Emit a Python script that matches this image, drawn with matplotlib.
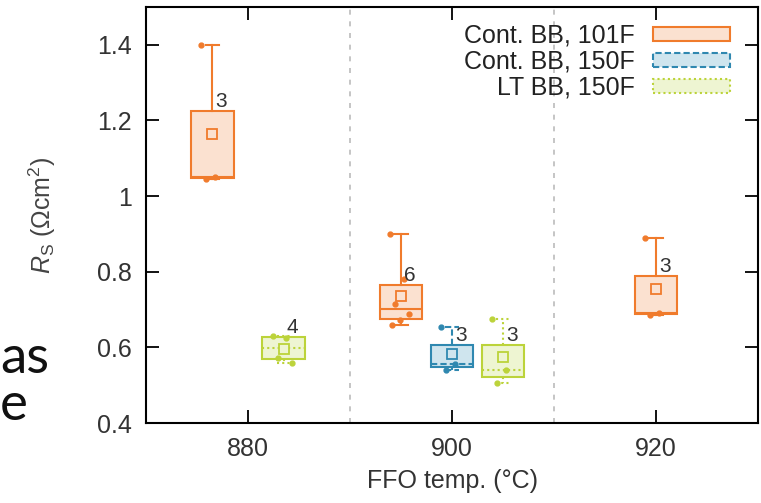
import numpy as np
import matplotlib
matplotlib.use("Agg")
import matplotlib.pyplot as plt
from matplotlib.patches import Patch

plt.rcParams['font.family'] = ['Liberation Sans', 'DejaVu Sans']
plt.rcParams['mathtext.fontset'] = 'custom'
plt.rcParams['mathtext.rm'] = 'Liberation Sans'
plt.rcParams['mathtext.it'] = 'Liberation Sans:italic'

# Rs values per group
labels = ['Cont. BB, 101F', 'Cont. BB, 150F', 'LT BB, 150F']
pos_101 = [876.5, 895, 920]
val_101 = [[1.40, 1.05, 1.045],
           [0.90, 0.78, 0.715, 0.687, 0.672, 0.66],
           [0.89, 0.69, 0.685]]
pos_150 = [900]
val_150 = [[0.655, 0.555, 0.54]]
pos_lt = [883.5, 905]
val_lt = [[0.63, 0.625, 0.572, 0.56],
          [0.675, 0.54, 0.505]]

series = [
    (pos_101, val_101, '#f07b2c', '#fbe1d0', '-'),
    (pos_150, val_150, '#2f88b0', '#cfe5ee', (0, (3, 1.5))),
    (pos_lt, val_lt, '#bcd33a', '#eef5d2', (0, (1, 1.5))),
]

fig = plt.figure(figsize=(7.61, 5.03), dpi=100)
ax = fig.add_axes([0.192, 0.159, 0.804, 0.827])

for xg in [890, 910]:
    ax.axvline(xg, color='#bbbbbb', lw=1.2, ls=(0, (3, 4)), zorder=0)

for pos, vals, ec, fc, ls in series:
    ax.boxplot(vals, positions=pos, widths=4.2, whis=(0, 100), showfliers=False,
               patch_artist=True, showmeans=True, capwidths=1.3, manage_ticks=False,
               boxprops=dict(facecolor=fc, edgecolor=ec, linewidth=1.5, linestyle=ls),
               medianprops=dict(color=ec, linewidth=1.5, linestyle=ls),
               whiskerprops=dict(color=ec, linewidth=1.5, linestyle=ls),
               capprops=dict(color=ec, linewidth=1.5, linestyle=ls),
               meanprops=dict(marker='s', markersize=7, markeredgecolor=ec,
                              markerfacecolor=fc, markeredgewidth=1.3))
    for p, v in zip(pos, vals):
        n = len(v)
        jit = ((np.arange(n) * 0.618) % 1 - 0.5) * 2.2
        ax.plot(p + jit, v, 'o', ms=3.5, color=ec, zorder=4)
        ax.text(p + 0.3, np.percentile(v, 75), str(n), ha='left', va='bottom',
                fontsize=15, color='#333333', zorder=5)

ax.set_xlim(870, 930)
ax.set_ylim(0.4, 1.5)
ax.set_xticks([880, 900, 920])
ax.set_yticks([0.4, 0.6, 0.8, 1.0, 1.2, 1.4])
ax.set_yticklabels(['0.4', '0.6', '0.8', '1', '1.2', '1.4'])
ax.tick_params(direction='in', length=9.5, width=1.3, top=True, right=True,
               labelsize=18, labelcolor='#333333', pad=10)
for s in ax.spines.values():
    s.set_linewidth(1.5)

ax.set_xlabel('FFO temp. (°C)', fontsize=18, color='#333333', labelpad=6)
ax.set_ylabel(r'$R_{\rm S}$ ($\Omega$cm$^2$)', fontsize=18, color='#444444', labelpad=28)

handles = [Patch(facecolor=fc, edgecolor=ec, linewidth=1.5, linestyle=ls) for _, _, ec, fc, ls in series]
ax.legend(handles, labels, loc='upper right', bbox_to_anchor=(0.975, 0.99), frameon=False,
          markerfirst=False, fontsize=18, handlelength=3.1, handleheight=0.5,
          labelspacing=0.08, handletextpad=0.7, borderpad=0, labelcolor='#222222')

# slide text at the left edge
fig.text(0.0, 0.258, 'as', fontsize=38, family='Lato', color='#111111', va='baseline')
fig.text(0.0, 0.165, 'e', fontsize=38, family='Lato', color='#111111', va='baseline')

fig.savefig('out.png', dpi=100)
